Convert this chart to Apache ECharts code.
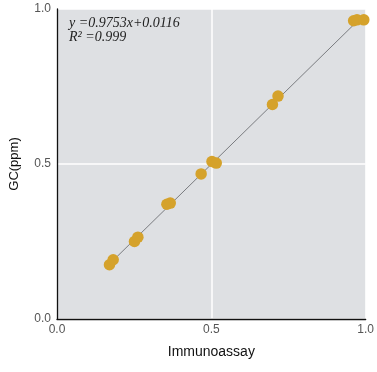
<!DOCTYPE html>
<html><head><meta charset="utf-8">
<script src="https://cdn.jsdelivr.net/npm/echarts@6/dist/echarts.min.js"></script>
<style>html,body{margin:0;padding:0;background:#fff}#c{width:377px;height:372px}</style>
</head><body><div id="c"></div>
<script>
const immunoassay = [0.170, 0.182, 0.251, 0.262, 0.356, 0.367, 0.467, 0.502, 0.516, 0.698, 0.716, 0.961, 0.972, 0.994];
const gc =          [0.175, 0.191, 0.250, 0.264, 0.370, 0.374, 0.468, 0.508, 0.503, 0.692, 0.719, 0.962, 0.965, 0.965];
const slope = 0.9753, intercept = 0.0116;
const fitRange = [0.168, 0.975];
const tickLabels = ['0.0', '0.5', '1.0'];
const equationText = 'y =0.9753x+0.0116';
const r2Text = 'R² =0.999';

const points = immunoassay.map((x, i) => [x, gc[i]]);
const fitLine = fitRange.map(x => [x, slope * x + intercept]);
const fmt = v => tickLabels[Math.round(v / 0.5)] || '';

const chart = echarts.init(document.getElementById('c'), null, {renderer: 'canvas'});
chart.setOption({
  animation: false,
  grid: {left: 56, right: 11, top: 9, bottom: 53, show: true, backgroundColor: '#dee0e3', borderWidth: 0},
  xAxis: {
    type: 'value', min: 0, max: 1, interval: 0.5,
    name: 'Immunoassay', nameLocation: 'middle', nameGap: 26,
    nameTextStyle: {fontFamily: 'Liberation Sans', fontSize: 14, color: '#111'},
    axisLine: {show: true, lineStyle: {color: '#111', width: 1.3}},
    axisTick: {show: false},
    axisLabel: {formatter: fmt, fontFamily: 'Liberation Sans', fontSize: 12, color: '#555', margin: 5},
    splitLine: {show: true, lineStyle: {color: '#ffffff', width: 1.5}}
  },
  yAxis: {
    type: 'value', min: 0, max: 1, interval: 0.5,
    name: 'GC(ppm)', nameLocation: 'middle', nameGap: 36,
    nameTextStyle: {fontFamily: 'Liberation Sans', fontSize: 13, color: '#111'},
    axisLine: {show: true, lineStyle: {color: '#111', width: 1.3}},
    axisTick: {show: false},
    axisLabel: {formatter: fmt, fontFamily: 'Liberation Sans', fontSize: 12, color: '#555', margin: 6},
    splitLine: {show: true, lineStyle: {color: '#ffffff', width: 1.5}}
  },
  graphic: [{
    type: 'text', left: 69, top: 16,
    style: {text: equationText + '\n' + r2Text, font: 'italic 14px "Liberation Serif"', fill: '#222', lineHeight: 14}
  }],
  series: [
    {type: 'line', data: fitLine, symbol: 'none', lineStyle: {color: '#7a7c80', width: 1}, z: 1},
    {type: 'scatter', data: points, symbolSize: 11.5, itemStyle: {color: '#d5a22b', opacity: 1}, z: 2}
  ]
});
</script></body></html>
